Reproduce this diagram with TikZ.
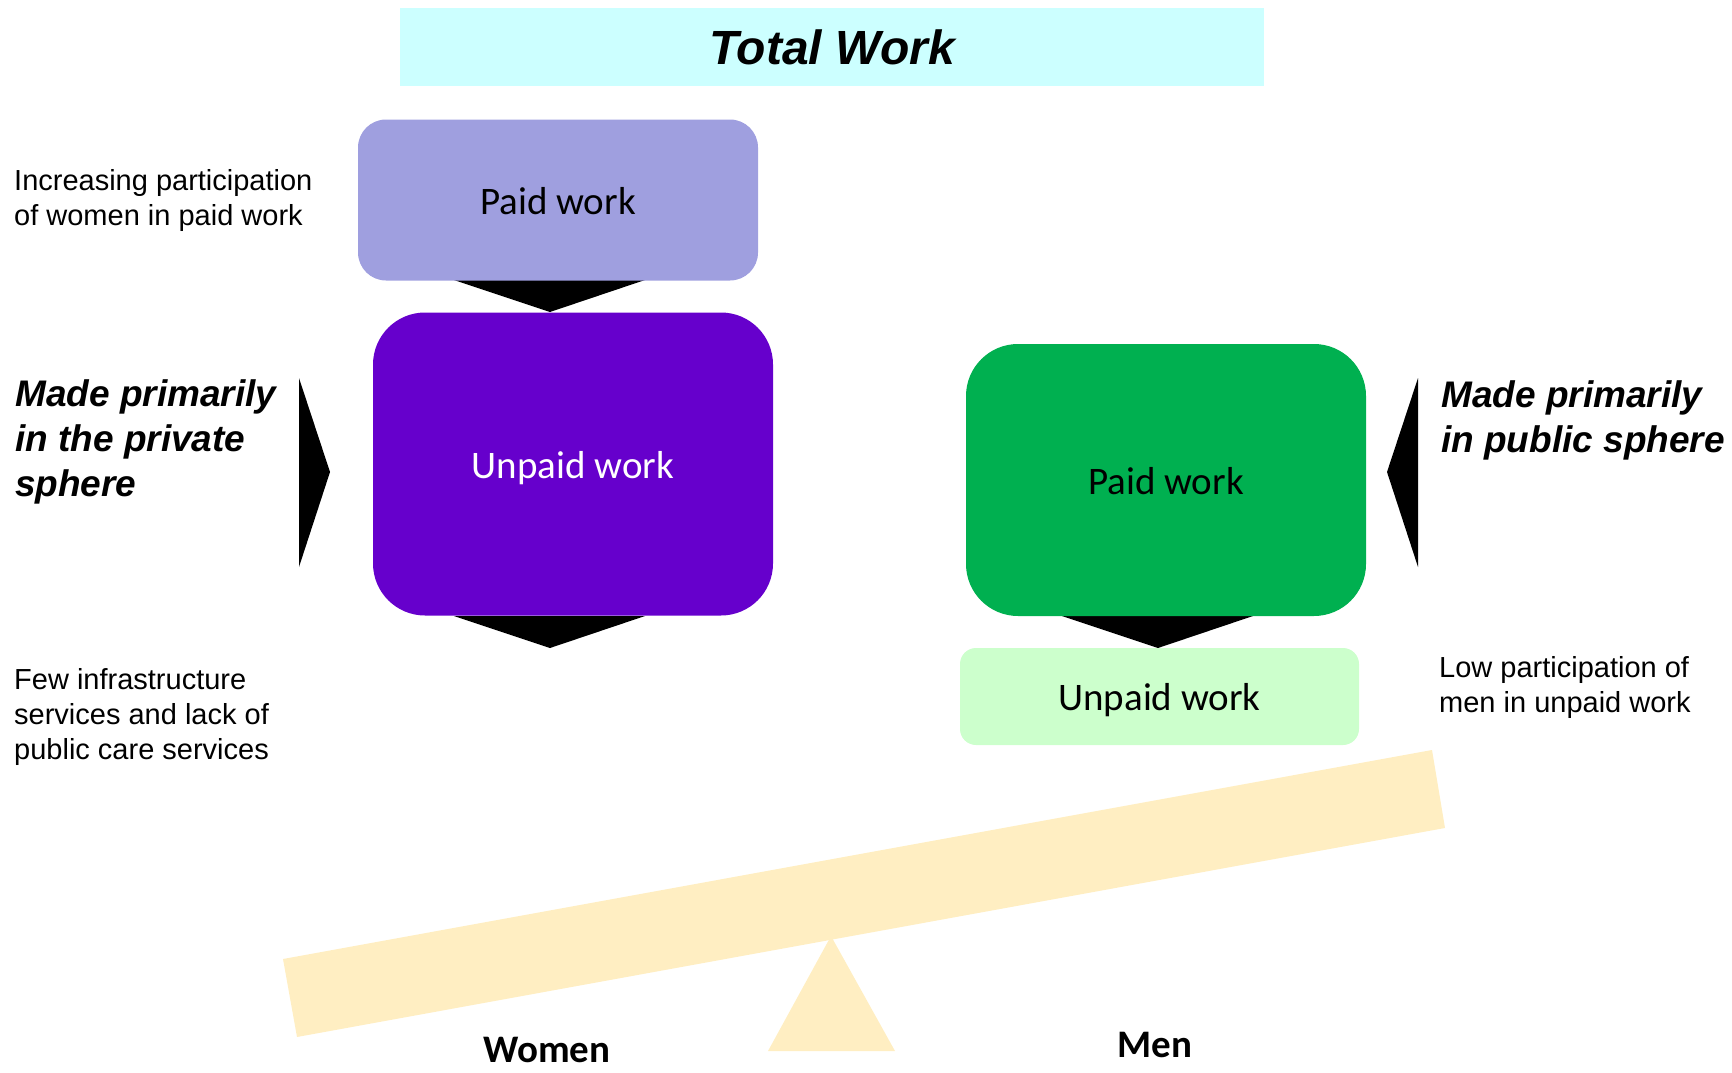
\documentclass[tikz,border=0pt]{standalone}
\usepackage{fontspec}
\setmainfont{Liberation Sans}
\newfontfamily\calib{Carlito}
\definecolor{titlebg}{RGB}{204,255,255}
\definecolor{paidw}{RGB}{159,159,223}
\definecolor{unpaidw}{RGB}{102,0,204}
\definecolor{paidm}{RGB}{0,176,80}
\definecolor{unpaidm}{RGB}{204,255,204}
\definecolor{beamc}{RGB}{255,238,194}
\begin{document}
\begin{tikzpicture}[x=1pt,y=-1pt,
  box/.style={rectangle, inner sep=0pt, text height=28pt, text depth=0pt, font=\calib\fontsize{39}{47}\selectfont},
  note/.style={anchor=west, align=left, inner sep=0pt, font=\fontsize{29}{35}\selectfont},
  spheretxt/.style={anchor=west, align=left, inner sep=0pt, font=\bfseries\itshape\fontsize{37}{45}\selectfont},
  sexlabel/.style={anchor=base, inner sep=0pt, text height=26pt, text depth=0pt, font=\calib\bfseries\fontsize{39}{47}\selectfont},
  chev/.style={fill=black}
]
\useasboundingbox (0,0) rectangle (1732,1073);
% title
\node[fill=titlebg, minimum width=864pt, minimum height=77pt, inner sep=0pt,
      font=\bfseries\itshape\fontsize{48}{56}\selectfont] (title) at (832,47) {Total Work};
% chevrons (behind boxes)
\fill[chev] (454,280) -- (645,280) -- (550,312) -- cycle;
\fill[chev] (454,616) -- (645,616) -- (550,648) -- cycle;
\fill[chev] (1062,616) -- (1253,616) -- (1158,648) -- cycle;
\fill[chev] (299,378) -- (330,472) -- (299,567) -- cycle;
\fill[chev] (1418,378) -- (1387,472) -- (1418,567) -- cycle;
% boxes
\node[box, fill=paidw, minimum width=400pt, minimum height=161pt, rounded corners=28pt] (pw) at (558,200) {Paid work};
\node[box, fill=unpaidw, text=white, minimum width=400pt, minimum height=303pt, rounded corners=52pt] (uw) at (573,464) {Unpaid work};
\node[box, fill=paidm, minimum width=400pt, minimum height=272pt, rounded corners=52pt] (pm) at (1166,480) {Paid work};
\node[box, fill=unpaidm, minimum width=399pt, minimum height=97pt, rounded corners=16pt] (um) at (1159.5,696.5) {Unpaid work};
% seesaw
\fill[beamc] (283,959) -- (1432,750) -- (1445,828) -- (297,1037) -- cycle;
\fill[beamc] (768,1051) -- (895,1051) -- (831,936) -- cycle;
% texts
\node[note] (inc) at (14,201) {Increasing participation\\of women in paid work};
\node[spheretxt] (privs) at (15,442) {Made primarily\\in the private\\sphere};
\node[spheretxt] (pubs) at (1441,420) {Made primarily\\in public sphere};
\node[note] (few) at (14,717) {Few infrastructure\\services and lack of\\public care services};
\node[note] (low) at (1439,687) {Low participation of\\men in unpaid work};
\node[sexlabel] (women) at (547,1062) {Women};
\node[sexlabel] (men) at (1155,1057) {Men};
\end{tikzpicture}
\end{document}
